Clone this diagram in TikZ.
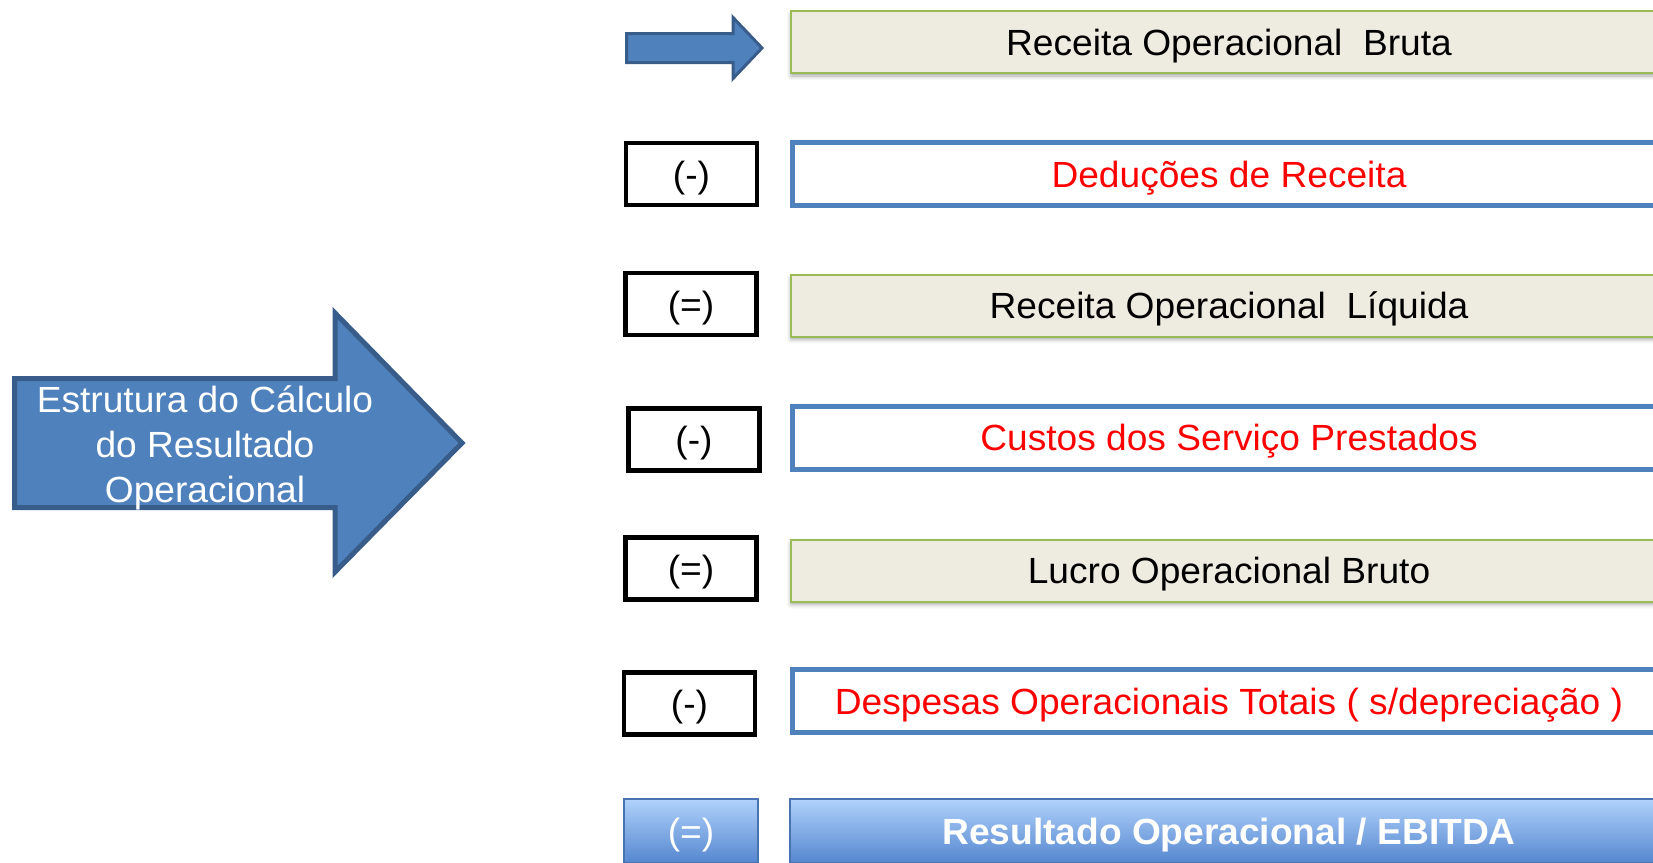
\documentclass[tikz,border=0pt]{standalone}
\usepackage{fontspec}
\setmainfont{Liberation Sans}[FakeStretch=1.02]
\usetikzlibrary{shadows.blur}
\definecolor{arrowfill}{HTML}{4F81BD}
\definecolor{arrowdraw}{HTML}{385D8A}
\definecolor{beige}{HTML}{EEECE1}
\definecolor{greenline}{HTML}{9BBB59}
\definecolor{blueline}{HTML}{4F81BD}
\definecolor{redtext}{HTML}{FF0000}
\definecolor{gradtop}{HTML}{B0D2FB}
\definecolor{gradbot}{HTML}{5586CF}
\tikzset{
  lbl/.style={font=\fontsize{18.2pt}{21pt}\selectfont, text height=13pt, text depth=0pt, inner sep=0pt},
  signbox/.style={lbl, draw=black, line width=2.4pt, minimum width=65.5pt, minimum height=31pt},
  mainbox/.style={lbl, minimum width=436.5pt, minimum height=31.5pt},
  beigebox/.style={mainbox, fill=beige, draw=greenline, line width=1pt, minimum width=438pt, minimum height=31pt,
    blur shadow={shadow xshift=0pt, shadow yshift=-1.5pt, shadow blur radius=2pt, shadow opacity=35}},
  whitebox/.style={mainbox, fill=white, draw=blueline, line width=2.5pt, text=redtext},
  gradbox/.style={top color=gradtop, bottom color=gradbot, draw=gradbot!85!black, line width=0.6pt, text=white},
  bigarrow/.style={fill=arrowfill, draw=arrowdraw, line width=2.5pt, line join=miter},
  smallarrow/.style={fill=arrowfill, draw=arrowdraw, line width=1.5pt, line join=miter},
}
\begin{document}
\begin{tikzpicture}[x=0.5pt, y=-0.5pt]
\useasboundingbox (0,0) rectangle (1653,862);
\clip (0,0) rectangle (1653,862);

% big arrow
\draw[bigarrow] (14.5,378.5) -- (335,378.5) -- (335,313) -- (462,443) -- (335,572) -- (335,507.5) -- (14.5,507.5) -- cycle;
\node[font=\fontsize{18.2pt}{22.5pt}\selectfont, text=white, align=center, inner sep=0pt] (title) at (205,448)
  {Estrutura do Cálculo\\do Resultado\\Operacional};

% small arrow
\draw[smallarrow] (626.5,33.5) -- (733,33.5) -- (733,17.5) -- (762,48) -- (733,78.5) -- (733,62.5) -- (626.5,62.5) -- cycle;

% row 1
\node[beigebox] (r1) at (1229,42) {Receita Operacional~ Bruta};
% row 2
\node[signbox] (s2) at (691.5,174) {(-)};
\node[whitebox] (r2) at (1229,174) {Deduções de Receita};
% row 3
\node[signbox] (s3) at (691,304) {(=)};
\node[beigebox] (r3) at (1229,305.5) {Receita Operacional~ Líquida};
% row 4
\node[signbox] (s4) at (694,439.5) {(-)};
\node[whitebox] (r4) at (1229,437.5) {Custos dos Serviço Prestados};
% row 5
\node[signbox] (s5) at (691,568.5) {(=)};
\node[beigebox] (r5) at (1229,570.5) {Lucro Operacional Bruto};
% row 6
\node[signbox] (s6) at (689.5,703.5) {(-)};
\node[whitebox] (r6) at (1229,701) {Despesas Operacionais Totais ( s/depreciação )};
% row 7
\node[lbl, gradbox, minimum width=67pt, minimum height=32pt] (s7) at (691,831) {(=)};
\node[lbl, gradbox, minimum width=439pt, minimum height=32pt, font=\fontsize{18.2pt}{21pt}\selectfont\bfseries] (r7) at (1229,831) {Resultado Operacional / EBITDA};
\end{tikzpicture}
\end{document}
